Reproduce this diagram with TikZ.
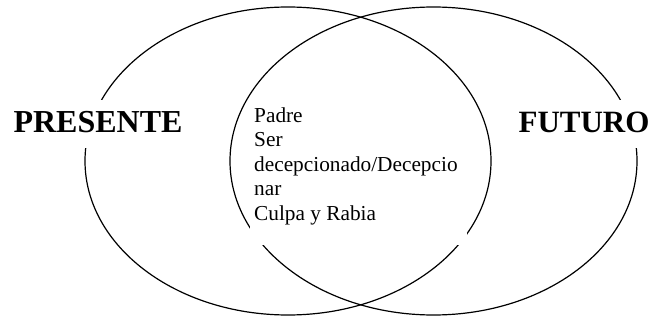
\documentclass[tikz,border=0pt]{standalone}
\usepackage{fontspec}
\setmainfont{Liberation Serif}
\begin{document}
\begin{tikzpicture}[x=1pt,y=-1pt,
  ring/.style={line width=1.2pt},
  biglabel/.style={fill=white, anchor=base, text height=23pt, text depth=5pt, inner ysep=10pt, font=\fontsize{32}{38}\selectfont\bfseries},
  mask/.style={fill=white, inner sep=0pt},
  body/.style={align=left, inner sep=0pt, font=\fontsize{21.3}{24.5}\selectfont}]
\useasboundingbox (0,0) rectangle (668,323);
\fill[white] (0,0) rectangle (668,323);
\draw[ring] (288,161) ellipse [x radius=203pt, y radius=154pt];
\draw[ring] (433.5,161) ellipse [x radius=203.5pt, y radius=154pt];
\node[biglabel] (presente) at (98,133) {PRESENTE};
\node[biglabel, font=\fontsize{31}{37}\selectfont\bfseries] (futuro) at (584,133) {FUTURO};
\node[mask, anchor=south west, minimum width=217pt, minimum height=140pt] (box) at (250,245) {};
\node[body, anchor=north west] (txt) at (254,107.5) {Padre\\Ser\\decepcionado/Decepcio\\nar\\Culpa y Rabia};
\end{tikzpicture}
\end{document}
